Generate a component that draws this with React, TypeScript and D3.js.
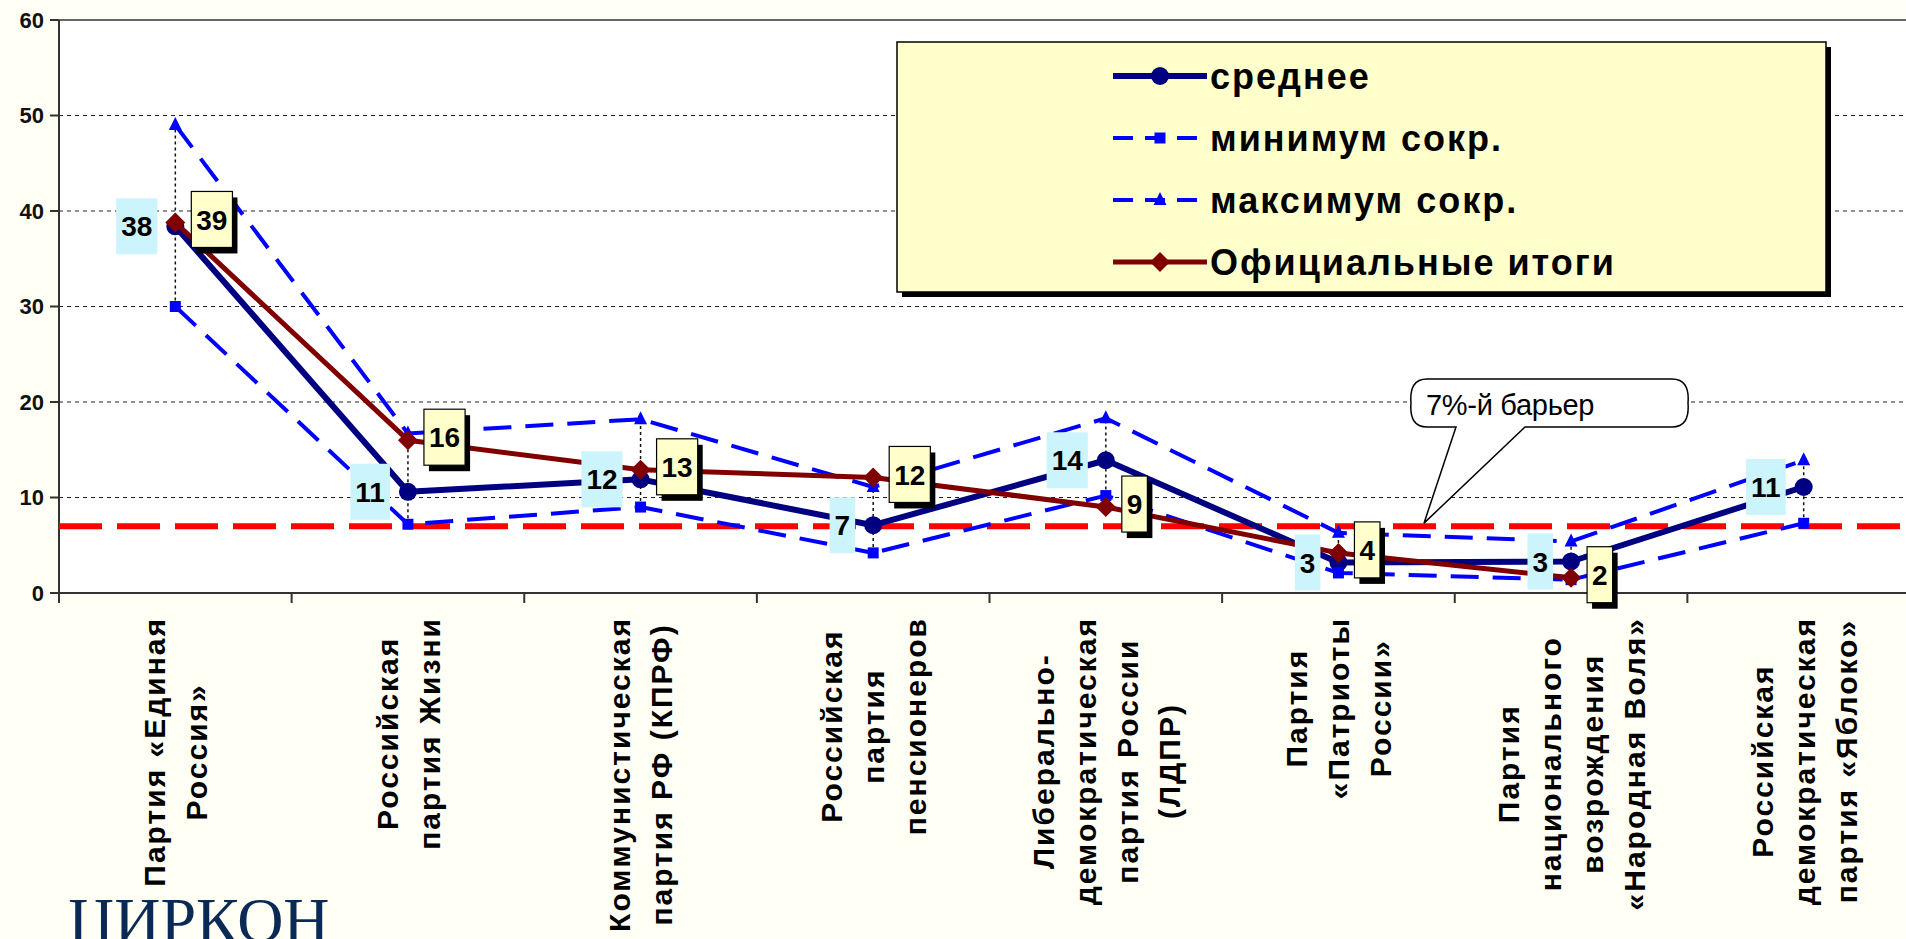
import React, { useMemo } from "react";
import * as d3 from "d3";

const categories: string[][] = [
  ["Партия «Единая", "Россия»"],
  ["Российская", "партия Жизни"],
  ["Коммунистическая", "партия РФ (КПРФ)"],
  ["Российская", "партия", "пенсионеров"],
  ["Либерально-", "демократическая", "партия России", "(ЛДПР)"],
  ["Партия", "«Патриоты", "России»"],
  ["Партия", "национального", "возрождения", "«Народная Воля»"],
  ["Российская", "демократическая", "партия «Яблоко»"],
];

const meanValues: number[] = [38.4, 10.6, 11.9, 7.1, 13.9, 3.2, 3.3, 11.1];
const minValues: number[] = [30, 7.2, 9.0, 4.2, 10.2, 2.1, 1.4, 7.3];
const maxValues: number[] = [49, 16.7, 18.2, 11.1, 18.3, 6.3, 5.4, 13.9];
const officialValues: (number | null)[] = [38.8, 16.0, 12.9, 12.1, 9.0, 4.2, 1.6, null];

const yTicks: number[] = [0, 10, 20, 30, 40, 50, 60];
const barrier = 7;

const legendItems = [
  { name: "среднее", key: "mean" },
  { name: "минимум сокр.", key: "min" },
  { name: "максимум сокр.", key: "max" },
  { name: "Официальные итоги", key: "off" },
];

const W = 1906;
const H = 939;
const NAVY = "#000080";
const BLUE = "#0000ff";
const DRED = "#800000";
const RED = "#ff0000";
const CYAN = "#ccf4fc";
const YEL = "#ffffcc";
const SANS = "'Liberation Sans', Arial, sans-serif";

function measure(text: string, font: string, ls: number): number {
  const c = document.createElement("canvas");
  const ctx = c.getContext("2d")!;
  ctx.font = font;
  return ctx.measureText(text).width + ls * text.length;
}

function Marker({ kind, x, y }: { kind: string; x: number; y: number }) {
  if (kind === "mean") return <circle cx={x} cy={y} r={9} fill={NAVY} />;
  if (kind === "min") return <rect x={x - 5.5} y={y - 5.5} width={11} height={11} fill={BLUE} />;
  if (kind === "max")
    return <path d={`M${x},${y - 8}L${x + 6.5},${y + 5}L${x - 6.5},${y + 5}Z`} fill={BLUE} />;
  return <path d={`M${x},${y - 10}L${x + 10},${y}L${x},${y + 10}L${x - 10},${y}Z`} fill={DRED} />;
}

export default function App() {
  const x = d3.scaleBand<number>().domain(categories.map((_, i) => i)).range([59, 1920]);
  const y = d3.scaleLinear().domain([0, 60]).range([593, 20]);
  const cx = (i: number) => (x(i) as number) + x.bandwidth() / 2;

  const line = d3
    .line<number | null>()
    .defined((d) => d != null)
    .x((_, i) => cx(i))
    .y((d) => y(d as number));

  const labelFont = `bold 30px ${SANS}`;
  const catLayout = useMemo(
    () =>
      categories.map((lines) => {
        const maxLen = Math.max(...lines.map((l) => measure(l, labelFont, 2)));
        return { maxLen };
      }),
    []
  );

  const dataFont = `bold 28px ${SANS}`;
  const series = [
    { key: "mean", values: meanValues as (number | null)[], color: NAVY, width: 6, dash: undefined as string | undefined },
    { key: "min", values: minValues as (number | null)[], color: BLUE, width: 4, dash: "28,14" },
    { key: "max", values: maxValues as (number | null)[], color: BLUE, width: 4, dash: "28,14" },
    { key: "off", values: officialValues, color: DRED, width: 5, dash: undefined },
  ];

  const legX = 897,
    legY = 42,
    legW = 929,
    legH = 250;
  const legRows = [76, 138, 200, 262];

  const calloutX0 = 1411,
    calloutX1 = 1688,
    calloutY0 = 379,
    calloutY1 = 427;

  const boxH = 56;

  return (
    <svg
      width={W}
      height={H}
      style={{ position: "absolute", left: 0, top: 0, display: "block" }}
      fontFamily={SANS}
    >
      <rect x={0} y={0} width={W} height={H} fill="#fffff6" />
      <rect x={59} y={y(60)} width={W - 59} height={y(0) - y(60)} fill="#ffffff" />

      {/* gridlines */}
      {yTicks
        .filter((t) => t > 0)
        .map((t) => (
          <line
            key={t}
            x1={59}
            x2={W}
            y1={y(t)}
            y2={y(t)}
            stroke={t === 60 ? "#333" : "#222"}
            strokeWidth={t === 60 ? 1.5 : 1.2}
            strokeDasharray={t === 60 ? undefined : "4,4"}
          />
        ))}

      {/* axes */}
      <line x1={59} x2={59} y1={y(60)} y2={y(0) + 10} stroke="#333" strokeWidth={2} />
      <line x1={50} x2={W} y1={y(0)} y2={y(0)} stroke="#333" strokeWidth={2} />
      {yTicks.map((t) => (
        <g key={t}>
          <line x1={50} x2={59} y1={y(t)} y2={y(t)} stroke="#333" strokeWidth={2} />
          <text
            x={44}
            y={y(t)}
            dy="0.36em"
            textAnchor="end"
            fontSize={22}
            fontWeight="bold"
            fill="#111"
          >
            {t}
          </text>
        </g>
      ))}
      {categories.map((_, i) =>
        i === 0 ? null : (
          <line
            key={i}
            x1={x(i) as number}
            x2={x(i) as number}
            y1={y(0)}
            y2={y(0) + 10}
            stroke="#333"
            strokeWidth={2}
          />
        )
      )}

      {/* category labels */}
      {categories.map((lines, i) => {
        const n = lines.length;
        const centerY = 617 + catLayout[i].maxLen / 2;
        return (
          <g key={i}>
            {lines.map((l, j) => {
              const lx = cx(i) + (j - (n - 1) / 2) * 42;
              return (
                <text
                  key={j}
                  transform={`translate(${lx},${centerY}) rotate(-90)`}
                  textAnchor="middle"
                  dy="0.36em"
                  fontSize={30}
                  fontWeight="bold"
                  letterSpacing={2}
                  fill="#000"
                >
                  {l}
                </text>
              );
            })}
          </g>
        );
      })}

      {/* 7% barrier */}
      <line
        x1={59}
        x2={W}
        y1={y(barrier)}
        y2={y(barrier)}
        stroke={RED}
        strokeWidth={6}
        strokeDasharray="43,15"
      />

      {/* high-low lines */}
      {categories.map((_, i) => (
        <line
          key={i}
          x1={cx(i)}
          x2={cx(i)}
          y1={y(minValues[i])}
          y2={y(maxValues[i])}
          stroke="#111"
          strokeWidth={1.5}
          strokeDasharray="3,3"
        />
      ))}

      {/* series */}
      {series.map((s) => (
        <g key={s.key}>
          <path
            d={line(s.values) || ""}
            fill="none"
            stroke={s.color}
            strokeWidth={s.width}
            strokeDasharray={s.dash}
            strokeLinejoin="round"
          />
          {s.values.map((v, i) =>
            v == null ? null : <Marker key={i} kind={s.key} x={cx(i)} y={y(v)} />
          )}
        </g>
      ))}

      {/* data labels: mean */}
      {meanValues.map((v, i) => {
        const t = String(Math.round(v));
        const w = measure(t, dataFont, 0) + 10;
        const px = cx(i);
        const py = y(v);
        return (
          <g key={i}>
            <rect x={px - 18 - w} y={py - boxH / 2} width={w} height={boxH} fill={CYAN} />
            <text
              x={px - 18 - w / 2}
              y={py}
              dy="0.36em"
              textAnchor="middle"
              fontSize={28}
              fontWeight="bold"
              fill="#000"
            >
              {t}
            </text>
          </g>
        );
      })}

      {/* data labels: official */}
      {officialValues.map((v, i) => {
        if (v == null) return null;
        const t = String(Math.round(v));
        const w = measure(t, dataFont, 0) + 10;
        const bx = cx(i) + 16;
        const by = y(v) - 3 - boxH / 2;
        return (
          <g key={i}>
            <rect x={bx + 5} y={by + 6} width={w} height={boxH} fill="#000" />
            <rect x={bx} y={by} width={w} height={boxH} fill={YEL} stroke="#000" strokeWidth={1.2} />
            <text
              x={bx + w / 2}
              y={by + boxH / 2}
              dy="0.36em"
              textAnchor="middle"
              fontSize={28}
              fontWeight="bold"
              fill="#000"
            >
              {t}
            </text>
          </g>
        );
      })}

      {/* callout */}
      <path
        d={`M${calloutX0 + 16},${calloutY0} H${calloutX1 - 16} Q${calloutX1 + 2},${calloutY0} ${calloutX1},${(calloutY0 + calloutY1) / 2} Q${calloutX1 + 2},${calloutY1} ${calloutX1 - 16},${calloutY1} H1525 L1424,${y(barrier) - 3} L1456,${calloutY1} H${calloutX0 + 16} Q${calloutX0 - 2},${calloutY1} ${calloutX0},${(calloutY0 + calloutY1) / 2} Q${calloutX0 - 2},${calloutY0} ${calloutX0 + 16},${calloutY0} Z`}
        fill="#ffffff"
        stroke="#000"
        strokeWidth={1.5}
      />
      <text x={1426} y={415} fontSize={29} fill="#000" letterSpacing={-0.3}>
        7%-й барьер
      </text>

      {/* legend */}
      <rect x={legX + 5} y={legY + 5} width={legW} height={legH} fill="#000" />
      <rect x={legX} y={legY} width={legW} height={legH} fill={YEL} stroke="#000" strokeWidth={1.5} />
      {legendItems.map((it, k) => {
        const s = series.find((q) => q.key === it.key)!;
        const ly = legRows[k];
        return (
          <g key={it.key}>
            <line
              x1={1113}
              x2={1207}
              y1={ly}
              y2={ly}
              stroke={s.color}
              strokeWidth={s.width}
              strokeDasharray={s.dash ? "20,12" : undefined}
            />
            <Marker kind={it.key} x={1160} y={ly} />
            <text
              x={1210}
              y={ly}
              dy="0.36em"
              fontSize={36}
              fontWeight="bold"
              letterSpacing={2}
              fill="#000"
            >
              {it.name}
            </text>
          </g>
        );
      })}

      {/* logo text */}
      <text x={68} y={942} fontFamily="'Liberation Serif', 'Times New Roman', serif" fontSize={64} fill="#0a2a55">
        ЦИРКОН
      </text>
    </svg>
  );
}
